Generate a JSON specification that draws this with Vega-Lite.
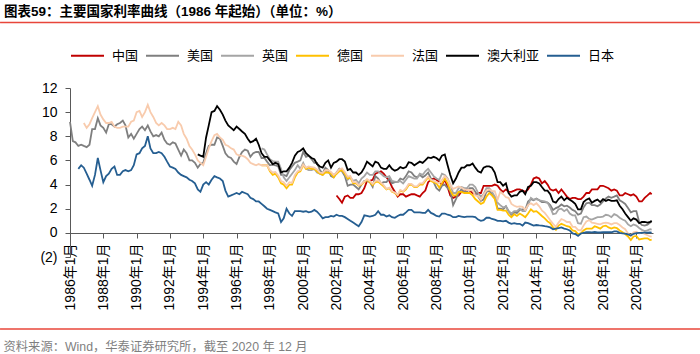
{
"$schema": "https://vega.github.io/schema/vega-lite/v6.json",
"width": 583,
"height": 169,
"autosize": "none",
"padding": {"left": 70, "top": 88, "right": 47, "bottom": 97},
"background": "white",
"config": {"view": {"stroke": null}, "font": "Liberation Sans, Noto Sans CJK SC", "axis": {"labelOverlap": false, "labelBound": false}},
"title": {"text": "图表59：主要国家利率曲线（1986 年起始）（单位：%）", "anchor": "start", "frame": "group", "dx": -66, "offset": 3, "fontSize": 13.5, "fontWeight": "bold", "font": "Liberation Sans, Noto Sans CJK SC", "color": "#000000"},
"layer": [
{
"data": {"values": [
{"t":1986,"美国":9.2},
{"t":1986.17,"美国":7.6},
{"t":1986.33,"美国":7.5},
{"t":1986.5,"美国":7.2,"日本":5.3},
{"t":1986.67,"美国":7.3,"日本":5.6},
{"t":1986.83,"美国":7.2,"法国":9.1,"日本":5.4},
{"t":1987,"美国":7.1,"法国":8.7,"日本":4.9},
{"t":1987.17,"美国":7.3,"法国":9.0,"日本":4.4},
{"t":1987.33,"美国":8.6,"法国":9.5,"日本":3.9},
{"t":1987.5,"美国":8.6,"法国":10.0,"日本":4.8},
{"t":1987.67,"美国":9.5,"法国":10.5,"日本":6.2},
{"t":1987.83,"美国":8.9,"法国":9.8,"日本":5.2},
{"t":1988,"美国":8.7,"法国":9.4,"日本":4.2},
{"t":1988.17,"美国":8.3,"法国":9.1,"日本":4.7},
{"t":1988.33,"美国":9.0,"法国":9.1,"日本":4.9},
{"t":1988.5,"美国":9.0,"法国":9.2,"日本":5.3},
{"t":1988.67,"美国":8.8,"法国":8.8,"日本":5.5},
{"t":1988.83,"美国":9.0,"法国":8.7,"日本":4.8},
{"t":1989,"美国":9.1,"法国":8.7,"日本":4.8},
{"t":1989.17,"美国":9.3,"法国":8.8,"日本":5.1},
{"t":1989.33,"美国":8.9,"法国":8.8,"日本":5.2},
{"t":1989.5,"美国":7.9,"法国":8.8,"日本":5.1},
{"t":1989.67,"美国":8.2,"法国":9.2,"日本":5.2},
{"t":1989.83,"美国":7.8,"法国":9.3,"日本":5.6},
{"t":1990,"美国":8.2,"法国":10.0,"日本":6.5},
{"t":1990.17,"美国":8.6,"法国":10.1,"日本":6.6},
{"t":1990.33,"美国":8.8,"法国":9.6,"日本":7.0},
{"t":1990.5,"美国":8.5,"法国":10.0,"日本":7.2},
{"t":1990.67,"美国":8.9,"法国":10.6,"日本":8.0},
{"t":1990.83,"美国":8.4,"法国":10.0,"日本":7.0},
{"t":1991,"美国":8.0,"法国":9.6,"日本":6.6},
{"t":1991.17,"美国":8.1,"法国":9.1,"日本":6.6},
{"t":1991.33,"美国":8.0,"法国":8.9,"日本":6.7},
{"t":1991.5,"美国":8.3,"法国":9.1,"日本":6.6},
{"t":1991.67,"美国":7.7,"法国":8.9,"日本":6.3},
{"t":1991.83,"美国":7.4,"法国":8.6,"日本":5.9},
{"t":1992,"美国":7.3,"法国":8.6,"日本":5.5},
{"t":1992.17,"美国":7.5,"法国":8.7,"日本":5.4},
{"t":1992.33,"美国":7.4,"法国":8.6,"日本":5.3},
{"t":1992.5,"美国":6.9,"法国":9.2,"日本":5.0},
{"t":1992.67,"美国":6.4,"法国":8.9,"日本":4.8},
{"t":1992.83,"美国":6.9,"法国":8.2,"日本":4.7},
{"t":1993,"美国":6.6,"法国":7.8,"日本":4.6},
{"t":1993.17,"美国":6.0,"法国":7.2,"日本":4.4},
{"t":1993.33,"美国":6.0,"法国":6.9,"日本":4.3},
{"t":1993.5,"美国":5.8,"法国":6.5,"日本":4.1},
{"t":1993.67,"美国":5.4,"法国":6.0,"澳大利亚":6.5,"日本":3.6},
{"t":1993.83,"美国":5.7,"法国":5.8,"澳大利亚":6.4,"日本":3.4},
{"t":1994,"美国":5.8,"法国":5.6,"澳大利亚":6.3,"日本":4.0},
{"t":1994.17,"美国":6.6,"法国":6.3,"澳大利亚":7.9,"日本":4.2},
{"t":1994.33,"美国":7.2,"法国":7.0,"澳大利亚":8.9,"日本":4.0},
{"t":1994.5,"美国":7.3,"法国":7.6,"澳大利亚":10.0,"日本":4.4},
{"t":1994.67,"美国":7.3,"法国":8.1,"澳大利亚":10.1,"日本":4.7},
{"t":1994.83,"美国":7.9,"法国":8.2,"澳大利亚":10.5,"日本":4.6},
{"t":1995,"美国":7.8,"法国":7.9,"澳大利亚":10.2,"日本":4.5},
{"t":1995.17,"美国":7.2,"法国":7.7,"澳大利亚":9.8,"日本":4.3},
{"t":1995.33,"美国":6.6,"法国":7.3,"澳大利亚":9.3,"日本":3.5},
{"t":1995.5,"美国":6.3,"法国":7.2,"澳大利亚":8.9,"日本":3.0},
{"t":1995.67,"美国":6.2,"法国":7.0,"澳大利亚":8.7,"日本":3.1},
{"t":1995.83,"美国":5.9,"法国":6.9,"澳大利亚":8.5,"日本":3.2},
{"t":1996,"美国":5.7,"法国":6.5,"澳大利亚":8.8,"日本":3.3},
{"t":1996.17,"美国":6.3,"法国":6.4,"澳大利亚":8.6,"日本":3.2},
{"t":1996.33,"美国":6.7,"法国":6.4,"澳大利亚":8.4,"日本":3.4},
{"t":1996.5,"美国":6.9,"法国":6.3,"澳大利亚":8.2,"日本":3.3},
{"t":1996.67,"美国":6.8,"法国":6.1,"澳大利亚":7.8,"日本":3.2},
{"t":1996.83,"美国":6.3,"法国":5.8,"澳大利亚":7.5,"日本":2.9},
{"t":1997,"美国":6.6,"法国":5.7,"澳大利亚":7.6,"日本":2.8},
{"t":1997.17,"美国":6.7,"法国":5.6,"澳大利亚":7.8,"日本":2.6},
{"t":1997.33,"美国":6.7,"法国":5.7,"澳大利亚":7.3,"日本":2.6},
{"t":1997.5,"美国":6.2,"英国":7.0,"德国":5.6,"法国":5.6,"澳大利亚":6.6,"日本":2.4},
{"t":1997.67,"美国":6.2,"英国":6.9,"德国":5.6,"法国":5.6,"澳大利亚":6.3,"日本":2.2},
{"t":1997.83,"美国":5.9,"英国":6.5,"德国":5.6,"法国":5.6,"澳大利亚":6.3,"日本":2.0},
{"t":1998,"美国":5.6,"英国":6.1,"德国":5.1,"法国":5.2,"澳大利亚":6.0,"日本":1.9},
{"t":1998.17,"美国":5.65,"英国":5.95,"德国":4.8,"法国":5.0,"澳大利亚":5.7,"日本":1.8},
{"t":1998.33,"美国":5.6,"英国":5.9,"德国":4.9,"法国":5.05,"澳大利亚":5.8,"日本":1.7},
{"t":1998.5,"美国":5.5,"英国":5.9,"德国":4.6,"法国":4.75,"澳大利亚":5.7,"日本":1.6},
{"t":1998.67,"美国":4.8,"英国":5.3,"德国":4.1,"法国":4.3,"澳大利亚":5.0,"日本":0.9},
{"t":1998.83,"美国":4.8,"英国":4.6,"德国":4.0,"法国":4.2,"澳大利亚":5.1,"日本":1.2},
{"t":1999,"美国":4.7,"英国":4.3,"德国":3.7,"法国":3.9,"澳大利亚":5.1,"日本":2.0},
{"t":1999.17,"美国":5.2,"英国":4.6,"德国":4.0,"法国":4.2,"澳大利亚":5.4,"日本":1.6},
{"t":1999.33,"美国":5.5,"英国":4.9,"德国":4.0,"法国":4.15,"澳大利亚":5.8,"日本":1.4},
{"t":1999.5,"美国":5.8,"英国":5.2,"德国":4.6,"法国":4.8,"澳大利亚":6.4,"日本":1.8},
{"t":1999.67,"美国":5.9,"英国":5.6,"德国":5.0,"法国":5.1,"澳大利亚":6.7,"日本":1.8},
{"t":1999.83,"美国":6.0,"英国":5.3,"德国":5.1,"法国":5.2,"澳大利亚":6.8,"日本":1.8},
{"t":2000,"美国":6.7,"英国":5.8,"德国":5.6,"法国":5.65,"澳大利亚":7.0,"日本":1.75},
{"t":2000.17,"美国":6.3,"英国":5.3,"德国":5.3,"法国":5.4,"澳大利亚":6.6,"日本":1.8},
{"t":2000.33,"美国":6.4,"英国":5.2,"德国":5.4,"法国":5.5,"澳大利亚":6.4,"日本":1.7},
{"t":2000.5,"美国":6.1,"英国":5.2,"德国":5.3,"法国":5.45,"澳大利亚":6.2,"日本":1.75},
{"t":2000.67,"美国":5.8,"英国":5.3,"德国":5.3,"法国":5.4,"澳大利亚":6.1,"日本":1.9},
{"t":2000.83,"美国":5.8,"英国":5.0,"德国":5.1,"法国":5.25,"澳大利亚":5.7,"日本":1.75},
{"t":2001,"美国":5.2,"英国":4.9,"德国":4.9,"法国":5.0,"澳大利亚":5.5,"日本":1.5},
{"t":2001.17,"美国":4.9,"英国":4.8,"德国":4.8,"法国":4.95,"澳大利亚":5.4,"日本":1.2},
{"t":2001.33,"美国":5.4,"英国":5.1,"德国":5.0,"法国":5.2,"澳大利亚":5.8,"日本":1.3},
{"t":2001.5,"美国":5.2,"英国":5.0,"德国":5.0,"法国":5.2,"澳大利亚":6.0,"日本":1.3},
{"t":2001.67,"美国":4.7,"英国":4.9,"德国":4.9,"法国":5.05,"澳大利亚":5.4,"日本":1.4},
{"t":2001.83,"美国":4.6,"英国":4.8,"德国":4.6,"法国":4.8,"澳大利亚":5.8,"日本":1.35},
{"t":2002,"中国":3.1,"美国":5.0,"英国":4.9,"德国":4.9,"法国":5.0,"澳大利亚":5.9,"日本":1.5},
{"t":2002.17,"中国":2.8,"美国":5.3,"英国":5.3,"德国":5.1,"法国":5.25,"澳大利亚":6.1,"日本":1.4},
{"t":2002.33,"中国":2.5,"美国":5.1,"英国":5.2,"德国":5.2,"法国":5.35,"澳大利亚":6.1,"日本":1.4},
{"t":2002.5,"中国":3.0,"美国":4.7,"英国":4.9,"德国":4.9,"法国":5.05,"澳大利亚":5.9,"日本":1.3},
{"t":2002.67,"中国":3.1,"美国":3.9,"英国":4.4,"德国":4.5,"法国":4.65,"澳大利亚":5.2,"日本":1.15},
{"t":2002.83,"中国":2.9,"美国":4.0,"英国":4.6,"德国":4.6,"法国":4.7,"澳大利亚":5.3,"日本":1.0},
{"t":2003,"中国":2.9,"美国":4.0,"英国":4.3,"德国":4.1,"法国":4.2,"澳大利亚":5.0,"日本":0.85},
{"t":2003.17,"中国":3.2,"美国":3.8,"英国":4.4,"德国":4.1,"法国":4.2,"澳大利亚":5.0,"日本":0.7},
{"t":2003.33,"中国":3.2,"美国":3.6,"英国":4.1,"德国":3.9,"法国":3.95,"澳大利亚":4.8,"日本":0.55},
{"t":2003.5,"中国":3.3,"美国":4.0,"英国":4.5,"德国":4.0,"法国":4.05,"澳大利亚":5.0,"日本":0.9},
{"t":2003.67,"中国":3.7,"美国":4.3,"英国":4.7,"德国":4.2,"法国":4.25,"澳大利亚":5.4,"日本":1.45},
{"t":2003.83,"中国":4.3,"美国":4.3,"英国":5.0,"德国":4.4,"法国":4.45,"澳大利亚":5.9,"日本":1.4},
{"t":2004,"中国":4.3,"美国":4.2,"英国":4.8,"德国":4.2,"法国":4.3,"澳大利亚":5.7,"日本":1.35},
{"t":2004.17,"中国":4.4,"美国":3.8,"英国":4.8,"德国":3.95,"法国":4.05,"澳大利亚":5.5,"日本":1.4},
{"t":2004.33,"中国":4.9,"美国":4.7,"英国":5.1,"德国":4.2,"法国":4.3,"澳大利亚":5.9,"日本":1.5},
{"t":2004.5,"中国":5.0,"美国":4.5,"英国":5.1,"德国":4.25,"法国":4.35,"澳大利亚":5.8,"日本":1.8},
{"t":2004.67,"中国":5.1,"美国":4.1,"英国":4.9,"德国":4.05,"法国":4.15,"澳大利亚":5.4,"日本":1.5},
{"t":2004.83,"中国":4.9,"美国":4.2,"英国":4.7,"德国":3.85,"法国":3.95,"澳大利亚":5.3,"日本":1.5},
{"t":2005,"中国":4.6,"美国":4.2,"英国":4.6,"德国":3.6,"法国":3.65,"澳大利亚":5.3,"日本":1.35},
{"t":2005.17,"中国":4.3,"美国":4.5,"英国":4.7,"德国":3.7,"法国":3.75,"澳大利亚":5.6,"日本":1.45},
{"t":2005.33,"中国":3.8,"美国":4.1,"英国":4.3,"德国":3.4,"法国":3.45,"澳大利亚":5.3,"日本":1.3},
{"t":2005.5,"中国":3.4,"美国":4.2,"英国":4.25,"德国":3.3,"法国":3.35,"澳大利亚":5.15,"日本":1.25},
{"t":2005.67,"中国":3.0,"美国":4.2,"英国":4.2,"德国":3.1,"法国":3.15,"澳大利亚":5.25,"日本":1.4},
{"t":2005.83,"中国":3.2,"美国":4.5,"英国":4.3,"德国":3.5,"法国":3.55,"澳大利亚":5.45,"日本":1.5},
{"t":2006,"中国":3.2,"美国":4.4,"英国":4.1,"德国":3.4,"法国":3.45,"澳大利亚":5.35,"日本":1.5},
{"t":2006.17,"中国":3.0,"美国":4.7,"英国":4.4,"德国":3.6,"法国":3.7,"澳大利亚":5.45,"日本":1.7},
{"t":2006.33,"中国":3.1,"美国":5.1,"英国":4.7,"德国":3.95,"法国":4.05,"澳大利亚":5.85,"日本":1.9},
{"t":2006.5,"中国":3.2,"美国":5.0,"英国":4.6,"德国":4.0,"法国":4.05,"澳大利亚":5.8,"日本":1.9},
{"t":2006.67,"中国":3.2,"美国":4.7,"英国":4.5,"德国":3.8,"法国":3.85,"澳大利亚":5.6,"日本":1.7},
{"t":2006.83,"中国":3.1,"美国":4.6,"英国":4.5,"德国":3.8,"法国":3.85,"澳大利亚":5.75,"日本":1.7},
{"t":2007,"中国":3.0,"美国":4.8,"英国":4.9,"德国":4.0,"法国":4.1,"澳大利亚":5.9,"日本":1.7},
{"t":2007.17,"中国":3.3,"美国":4.6,"英国":4.8,"德国":4.0,"法国":4.1,"澳大利亚":5.8,"日本":1.65},
{"t":2007.33,"中国":3.5,"美国":4.75,"英国":5.1,"德国":4.3,"法国":4.4,"澳大利亚":6.0,"日本":1.65},
{"t":2007.5,"中国":4.2,"美国":5.0,"英国":5.3,"德国":4.6,"法国":4.65,"澳大利亚":6.25,"日本":1.9},
{"t":2007.67,"中国":4.4,"美国":4.5,"英国":5.0,"德国":4.3,"法国":4.4,"澳大利亚":6.2,"日本":1.65},
{"t":2007.83,"中国":4.5,"美国":4.2,"英国":4.7,"德国":4.2,"法国":4.3,"澳大利亚":6.3,"日本":1.55},
{"t":2008,"中国":4.4,"美国":3.7,"英国":4.5,"德国":4.1,"法国":4.2,"澳大利亚":6.2,"日本":1.4},
{"t":2008.17,"中国":4.2,"美国":3.5,"英国":4.4,"德国":3.75,"法国":4.1,"澳大利亚":6.0,"日本":1.35},
{"t":2008.33,"中国":4.0,"美国":3.9,"英国":4.9,"德国":4.1,"法国":4.4,"澳大利亚":6.4,"日本":1.6},
{"t":2008.5,"中国":4.4,"美国":4.0,"英国":4.8,"德国":4.5,"法国":4.7,"澳大利亚":6.5,"日本":1.6},
{"t":2008.67,"中国":3.8,"美国":3.7,"英国":4.5,"德国":4.1,"法国":4.45,"澳大利亚":5.6,"日本":1.5},
{"t":2008.83,"中国":3.1,"美国":3.5,"英国":4.0,"德国":3.5,"法国":3.95,"澳大利亚":4.8,"日本":1.45},
{"t":2009,"中国":2.9,"美国":2.3,"英国":3.3,"德国":3.1,"法国":3.65,"澳大利亚":4.1,"日本":1.3},
{"t":2009.17,"中国":3.0,"美国":2.8,"英国":3.3,"德国":3.1,"法国":3.75,"澳大利亚":4.5,"日本":1.3},
{"t":2009.33,"中国":3.1,"美国":3.3,"英国":3.7,"德国":3.4,"法国":3.85,"澳大利亚":5.0,"日本":1.4},
{"t":2009.5,"中国":3.4,"美国":3.6,"英国":3.8,"德国":3.4,"法国":3.75,"澳大利亚":5.4,"日本":1.35},
{"t":2009.67,"中国":3.4,"美国":3.4,"英国":3.7,"德国":3.3,"法国":3.6,"澳大利亚":5.4,"日本":1.3},
{"t":2009.83,"中国":3.6,"美国":3.4,"英国":3.7,"德国":3.3,"法国":3.55,"澳大利亚":5.6,"日本":1.35},
{"t":2010,"中国":3.5,"美国":3.7,"英国":4.0,"德国":3.3,"法国":3.55,"澳大利亚":5.6,"日本":1.35},
{"t":2010.17,"中国":3.3,"美国":3.7,"英国":4.0,"德国":3.1,"法国":3.5,"澳大利亚":5.75,"日本":1.35},
{"t":2010.33,"中国":3.2,"美国":3.4,"英国":3.8,"德国":2.8,"法国":3.1,"澳大利亚":5.4,"日本":1.3},
{"t":2010.5,"中国":3.3,"美国":3.0,"英国":3.3,"德国":2.6,"法国":3.05,"澳大利亚":5.1,"日本":1.1},
{"t":2010.67,"中国":3.3,"美国":2.65,"英国":3.0,"德国":2.4,"法国":2.75,"澳大利亚":5.0,"日本":1.0},
{"t":2010.83,"中国":3.9,"美国":2.75,"英国":3.2,"德国":2.5,"法国":3.15,"澳大利亚":5.4,"日本":1.05},
{"t":2011,"中国":3.9,"美国":3.4,"英国":3.7,"德国":3.0,"法国":3.5,"澳大利亚":5.5,"日本":1.25},
{"t":2011.17,"中国":3.9,"美国":3.5,"英国":3.7,"德国":3.3,"法国":3.6,"澳大利亚":5.5,"日本":1.25},
{"t":2011.33,"中国":3.9,"美国":3.2,"英国":3.4,"德国":3.1,"法国":3.45,"澳大利亚":5.4,"日本":1.15},
{"t":2011.5,"中国":4.0,"美国":3.0,"英国":3.0,"德国":2.8,"法国":3.45,"澳大利亚":5.0,"日本":1.1},
{"t":2011.67,"中国":3.9,"美国":2.0,"英国":2.5,"德国":1.9,"法国":2.75,"澳大利亚":4.2,"日本":1.0},
{"t":2011.83,"中国":3.6,"美国":2.0,"英国":2.3,"德国":1.9,"法国":3.4,"澳大利亚":4.2,"日本":1.0},
{"t":2012,"中国":3.4,"美国":1.95,"英国":2.1,"德国":1.85,"法国":3.2,"澳大利亚":3.9,"日本":0.95},
{"t":2012.17,"中国":3.6,"美国":2.2,"英国":2.2,"德国":1.85,"法国":2.95,"澳大利亚":4.1,"日本":1.0},
{"t":2012.33,"中国":3.4,"美国":1.8,"英国":1.8,"德国":1.5,"法国":2.9,"澳大利亚":3.3,"日本":0.85},
{"t":2012.5,"中国":3.4,"美国":1.5,"英国":1.6,"德国":1.3,"法国":2.4,"澳大利亚":3.0,"日本":0.75},
{"t":2012.67,"中国":3.5,"美国":1.7,"英国":1.8,"德国":1.55,"法国":2.25,"澳大利亚":3.1,"日本":0.8},
{"t":2012.83,"中国":3.6,"美国":1.65,"英国":1.8,"德国":1.4,"法国":2.15,"澳大利亚":3.1,"日本":0.75},
{"t":2013,"中国":3.6,"美国":1.9,"英国":2.0,"德国":1.6,"法国":2.2,"澳大利亚":3.4,"日本":0.75},
{"t":2013.17,"中国":3.5,"美国":1.95,"英国":1.8,"德国":1.45,"法国":2.15,"澳大利亚":3.5,"日本":0.6},
{"t":2013.33,"中国":3.4,"美国":1.9,"英国":1.8,"德国":1.3,"法国":1.9,"澳大利亚":3.2,"日本":0.85},
{"t":2013.5,"中国":3.6,"美国":2.6,"英国":2.3,"德国":1.6,"法国":2.3,"澳大利亚":3.8,"日本":0.8},
{"t":2013.67,"中国":4.0,"美国":2.8,"英国":2.9,"德国":1.95,"法国":2.45,"澳大利亚":3.9,"日本":0.7},
{"t":2013.83,"中国":4.5,"美国":2.7,"英国":2.75,"德国":1.75,"法国":2.3,"澳大利亚":4.2,"日本":0.6},
{"t":2014,"中国":4.6,"美国":2.85,"英国":2.8,"德国":1.8,"法国":2.45,"澳大利亚":4.2,"日本":0.65},
{"t":2014.17,"中国":4.5,"美国":2.7,"英国":2.7,"德国":1.6,"法国":2.2,"澳大利亚":4.1,"日本":0.62},
{"t":2014.33,"中国":4.1,"美国":2.55,"英国":2.65,"德国":1.4,"法国":1.85,"澳大利亚":3.8,"日本":0.6},
{"t":2014.5,"中国":4.3,"美国":2.55,"英国":2.6,"德国":1.2,"法国":1.65,"澳大利亚":3.5,"日本":0.55},
{"t":2014.67,"中国":4.0,"美国":2.5,"英国":2.5,"德国":0.95,"法国":1.35,"澳大利亚":3.5,"日本":0.52},
{"t":2014.83,"中国":3.6,"美国":2.3,"英国":2.1,"德国":0.8,"法国":1.05,"澳大利亚":3.2,"日本":0.45},
{"t":2015,"中国":3.5,"美国":1.9,"英国":1.55,"德国":0.45,"法国":0.75,"澳大利亚":2.6,"日本":0.3},
{"t":2015.17,"中国":3.6,"美国":2.05,"英国":1.6,"德国":0.25,"法国":0.5,"澳大利亚":2.5,"日本":0.35},
{"t":2015.33,"中国":3.3,"美国":2.15,"英国":1.95,"德国":0.6,"法国":0.85,"澳大利亚":2.8,"日本":0.4},
{"t":2015.5,"中国":3.6,"美国":2.35,"英国":2.0,"德国":0.75,"法国":1.15,"澳大利亚":3.0,"日本":0.45},
{"t":2015.67,"中国":3.3,"美国":2.2,"英国":1.8,"德国":0.65,"法国":1.05,"澳大利亚":2.7,"日本":0.35},
{"t":2015.83,"中国":3.0,"美国":2.25,"英国":1.95,"德国":0.55,"法国":0.9,"澳大利亚":2.9,"日本":0.3},
{"t":2016,"中国":2.8,"美国":2.1,"英国":1.6,"德国":0.5,"法国":0.9,"澳大利亚":2.75,"日本":0.2},
{"t":2016.17,"中国":2.9,"美国":1.9,"英国":1.45,"德国":0.2,"法国":0.5,"澳大利亚":2.6,"日本":-0.05},
{"t":2016.33,"中国":2.9,"美国":1.8,"英国":1.45,"德国":0.15,"法国":0.5,"澳大利亚":2.4,"日本":-0.1},
{"t":2016.5,"中国":2.8,"美国":1.5,"英国":0.8,"德国":-0.1,"法国":0.25,"澳大利亚":1.95,"日本":-0.25},
{"t":2016.67,"中国":2.8,"美国":1.6,"英国":0.75,"德国":-0.05,"法国":0.2,"澳大利亚":1.95,"日本":-0.05},
{"t":2016.83,"中国":3.0,"美国":2.1,"英国":1.3,"德国":0.2,"法国":0.6,"澳大利亚":2.55,"日本":0.0},
{"t":2017,"中国":3.3,"美国":2.45,"英国":1.35,"德国":0.35,"法国":0.95,"澳大利亚":2.75,"日本":0.05},
{"t":2017.17,"中国":3.3,"美国":2.5,"英国":1.15,"德国":0.35,"法国":1.05,"澳大利亚":2.85,"日本":0.06},
{"t":2017.33,"中国":3.6,"美国":2.3,"英国":1.1,"德国":0.35,"法国":0.85,"澳大利亚":2.5,"日本":0.04},
{"t":2017.5,"中国":3.6,"美国":2.3,"英国":1.2,"德国":0.55,"法国":0.8,"澳大利亚":2.65,"日本":0.07},
{"t":2017.67,"中国":3.6,"美国":2.2,"英国":1.3,"德国":0.45,"法国":0.75,"澳大利亚":2.75,"日本":0.03},
{"t":2017.83,"中国":3.9,"美国":2.35,"英国":1.3,"德国":0.35,"法国":0.7,"澳大利亚":2.55,"日本":0.03},
{"t":2018,"中国":3.9,"美国":2.6,"英国":1.35,"德国":0.55,"法国":0.8,"澳大利亚":2.8,"日本":0.06},
{"t":2018.17,"中国":3.8,"美国":2.85,"英国":1.5,"德国":0.6,"法国":0.85,"澳大利亚":2.65,"日本":0.05},
{"t":2018.33,"中国":3.7,"美国":3.0,"英国":1.45,"德国":0.45,"法国":0.8,"澳大利亚":2.75,"日本":0.05},
{"t":2018.5,"中国":3.5,"美国":2.9,"英国":1.3,"德国":0.35,"法国":0.7,"澳大利亚":2.65,"日本":0.05},
{"t":2018.67,"中国":3.6,"美国":3.0,"英国":1.55,"德国":0.45,"法国":0.8,"澳大利亚":2.65,"日本":0.12},
{"t":2018.83,"中国":3.5,"美国":3.1,"英国":1.45,"德国":0.4,"法国":0.8,"澳大利亚":2.7,"日本":0.12},
{"t":2019,"中国":3.1,"美国":2.7,"英国":1.25,"德国":0.2,"法国":0.65,"澳大利亚":2.25,"日本":0.0},
{"t":2019.17,"中国":3.1,"美国":2.55,"英国":1.1,"德国":0.05,"法国":0.45,"澳大利亚":1.95,"日本":-0.05},
{"t":2019.33,"中国":3.3,"美国":2.4,"英国":1.0,"德国":-0.1,"法国":0.3,"澳大利亚":1.6,"日本":-0.06},
{"t":2019.5,"中国":3.2,"美国":2.05,"英国":0.7,"德国":-0.3,"法国":-0.05,"澳大利亚":1.3,"日本":-0.12},
{"t":2019.67,"中国":3.1,"美国":1.7,"英国":0.55,"德国":-0.6,"法国":-0.25,"澳大利亚":1.0,"日本":-0.22},
{"t":2019.83,"中国":3.2,"美国":1.8,"英国":0.7,"德国":-0.3,"法国":0.05,"澳大利亚":1.2,"日本":-0.08},
{"t":2020,"中国":3.0,"美国":1.8,"英国":0.6,"德国":-0.25,"法国":0.1,"澳大利亚":1.1,"日本":-0.02},
{"t":2020.17,"中国":2.6,"美国":0.9,"英国":0.4,"德国":-0.55,"法国":-0.05,"澳大利亚":0.8,"日本":0.0},
{"t":2020.33,"中国":2.6,"美国":0.65,"英国":0.25,"德国":-0.5,"法国":0.05,"澳大利亚":0.9,"日本":0.0},
{"t":2020.5,"中国":2.9,"美国":0.6,"英国":0.15,"德国":-0.45,"法国":-0.1,"澳大利亚":0.9,"日本":0.02},
{"t":2020.67,"中国":3.1,"美国":0.68,"英国":0.2,"德国":-0.45,"法国":-0.2,"澳大利亚":0.85,"日本":0.02},
{"t":2020.83,"中国":3.3,"美国":0.85,"英国":0.3,"德国":-0.6,"法国":-0.3,"澳大利亚":0.9,"日本":0.03},
{"t":2020.92,"中国":3.2,"美国":0.93,"英国":0.27,"德国":-0.57,"法国":-0.32,"澳大利亚":1.0,"日本":0.02}
]},
"transform": [{"fold": ["中国","美国","英国","德国","法国","澳大利亚","日本"], "as": ["c","v"]}],
"mark": {"type": "line", "strokeWidth": 1.8},
"encoding": {
"x": {"field": "t", "type": "quantitative",
 "scale": {"domain": [1986, 2021], "nice": false, "zero": false},
 "axis": {"values": [1986,1988,1990,1992,1994,1996,1998,2000,2002,2004,2006,2008,2010,2012,2014,2016,2018,2020],
  "tickCount": 40,
  "labelExpr": "datum.value + '年1月'", "labelAngle": -90, "labelAlign": "right", "labelBaseline": "middle",
  "labelFontSize": 14, "labelColor": "#000000", "labelPadding": 5, "labelOverlap": false, "labelFlush": false,
  "tickSize": 5, "tickColor": "#595959", "domainColor": "#595959", "offset": -24, "grid": false,
  "title": "资料来源：Wind，华泰证券研究所，截至 2020 年 12 月", "titleX": -67, "titleY": 113,
  "titleAlign": "left", "titleBaseline": "middle", "titleFontSize": 12.3, "titleFontWeight": "normal", "titleColor": "#7f7f7f"}},
"y": {"field": "v", "type": "quantitative",
 "scale": {"domain": [-2, 12], "nice": false, "zero": false},
 "axis": {"values": [-2,0,2,4,6,8,10,12],
  "tickCount": 20,
  "labelExpr": "datum.value < 0 ? '(' + (-datum.value) + ')' : datum.value + '\u00a0'",
  "labelFontSize": 14, "labelColor": "#000000", "labelPadding": 8, "labelOverlap": false, "tickSize": 5, "tickColor": "#595959",
  "domainColor": "#595959", "grid": false, "title": null}},
"color": {"field": "c", "type": "nominal",
 "scale": {"domain": ["中国","美国","英国","德国","法国","澳大利亚","日本"],
  "range": ["#C00000","#7F7F7F","#A5A5A5","#FFC000","#F8CBAD","#000000","#255E91"]},
 "legend": {"title": null, "orient": "top", "direction": "horizontal", "symbolType": "stroke",
  "symbolSize": 1089, "symbolStrokeWidth": 2, "labelFontSize": 13, "labelColor": "#000000",
  "labelOffset": 7, "columnPadding": 3, "offset": 25}}
}
},
{
"data": {"values": [{}]},
"mark": {"type": "rule", "color": "#E8463A", "strokeWidth": 1.5},
"encoding": {"x": {"datum": 1981.8, "type": "quantitative"}, "x2": {"datum": 2023.82}, "y": {"datum": 17.43, "type": "quantitative"}}
},
{
"data": {"values": [{}]},
"mark": {"type": "rule", "color": "#E8463A", "strokeWidth": 1.5},
"encoding": {"x": {"datum": 1981.8, "type": "quantitative"}, "x2": {"datum": 2023.82}, "y": {"datum": -7.97, "type": "quantitative"}}
}
]
}
